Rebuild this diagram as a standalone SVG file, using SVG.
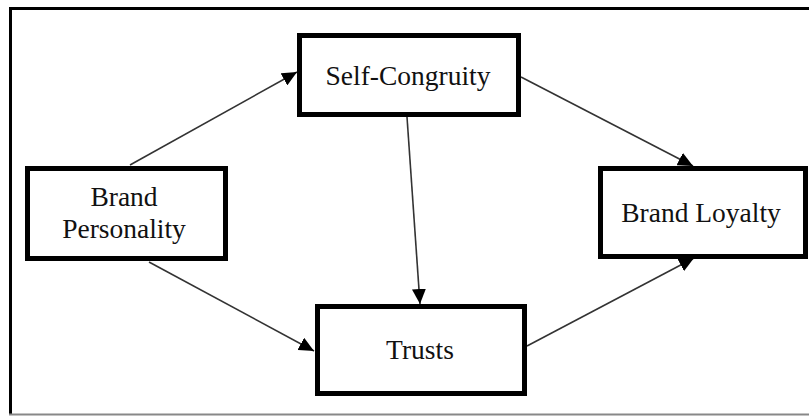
<svg xmlns="http://www.w3.org/2000/svg" width="809" height="416" viewBox="0 0 809 416">
<defs>
<style>
.box{fill:#fff;stroke:#000;stroke-width:5}
.lbl{font-family:"Liberation Serif","Times New Roman",serif;font-size:27.5px;fill:#111;text-anchor:middle}
.edge{stroke:#333;stroke-width:1.6;fill:none;marker-end:url(#ah)}
</style>
<marker id="ah" markerUnits="userSpaceOnUse" markerWidth="16" markerHeight="14" refX="15" refY="7" orient="auto">
<path d="M0,0 L15,7 L0,14 Z" fill="#000"/>
</marker>
</defs>
<rect x="0" y="0" width="809" height="416" fill="#fff"/>
<g id="frame">
<line x1="9" y1="8.5" x2="809" y2="8.5" stroke="#000" stroke-width="3"/>
<line x1="10.5" y1="7" x2="10.5" y2="415" stroke="#000" stroke-width="3"/>
<line x1="9" y1="414.5" x2="809" y2="414.5" stroke="#888" stroke-width="2"/>
</g>
<g id="connectors">
<line class="edge" x1="130" y1="165" x2="297" y2="72"/>
<line class="edge" x1="521" y1="77" x2="693" y2="166"/>
<line class="edge" x1="407" y1="117" x2="420" y2="304"/>
<line class="edge" x1="149" y1="262" x2="314" y2="351"/>
<line class="edge" x1="527" y1="346" x2="694" y2="258"/>
</g>
<g id="self-congruity">
<rect class="box" x="299.5" y="35.5" width="219" height="79"/>
<text class="lbl" x="408" y="85">Self-Congruity</text>
</g>
<g id="brand-personality">
<rect class="box" x="27.5" y="168.5" width="198" height="90"/>
<text class="lbl" x="124" y="206">Brand</text>
<text class="lbl" x="124" y="238">Personality</text>
</g>
<g id="brand-loyalty">
<rect class="box" x="600.5" y="168.5" width="205" height="88"/>
<text class="lbl" x="701" y="222">Brand Loyalty</text>
</g>
<g id="trusts">
<rect class="box" x="317.5" y="306.5" width="207" height="87"/>
<text class="lbl" x="420" y="359">Trusts</text>
</g>
</svg>
